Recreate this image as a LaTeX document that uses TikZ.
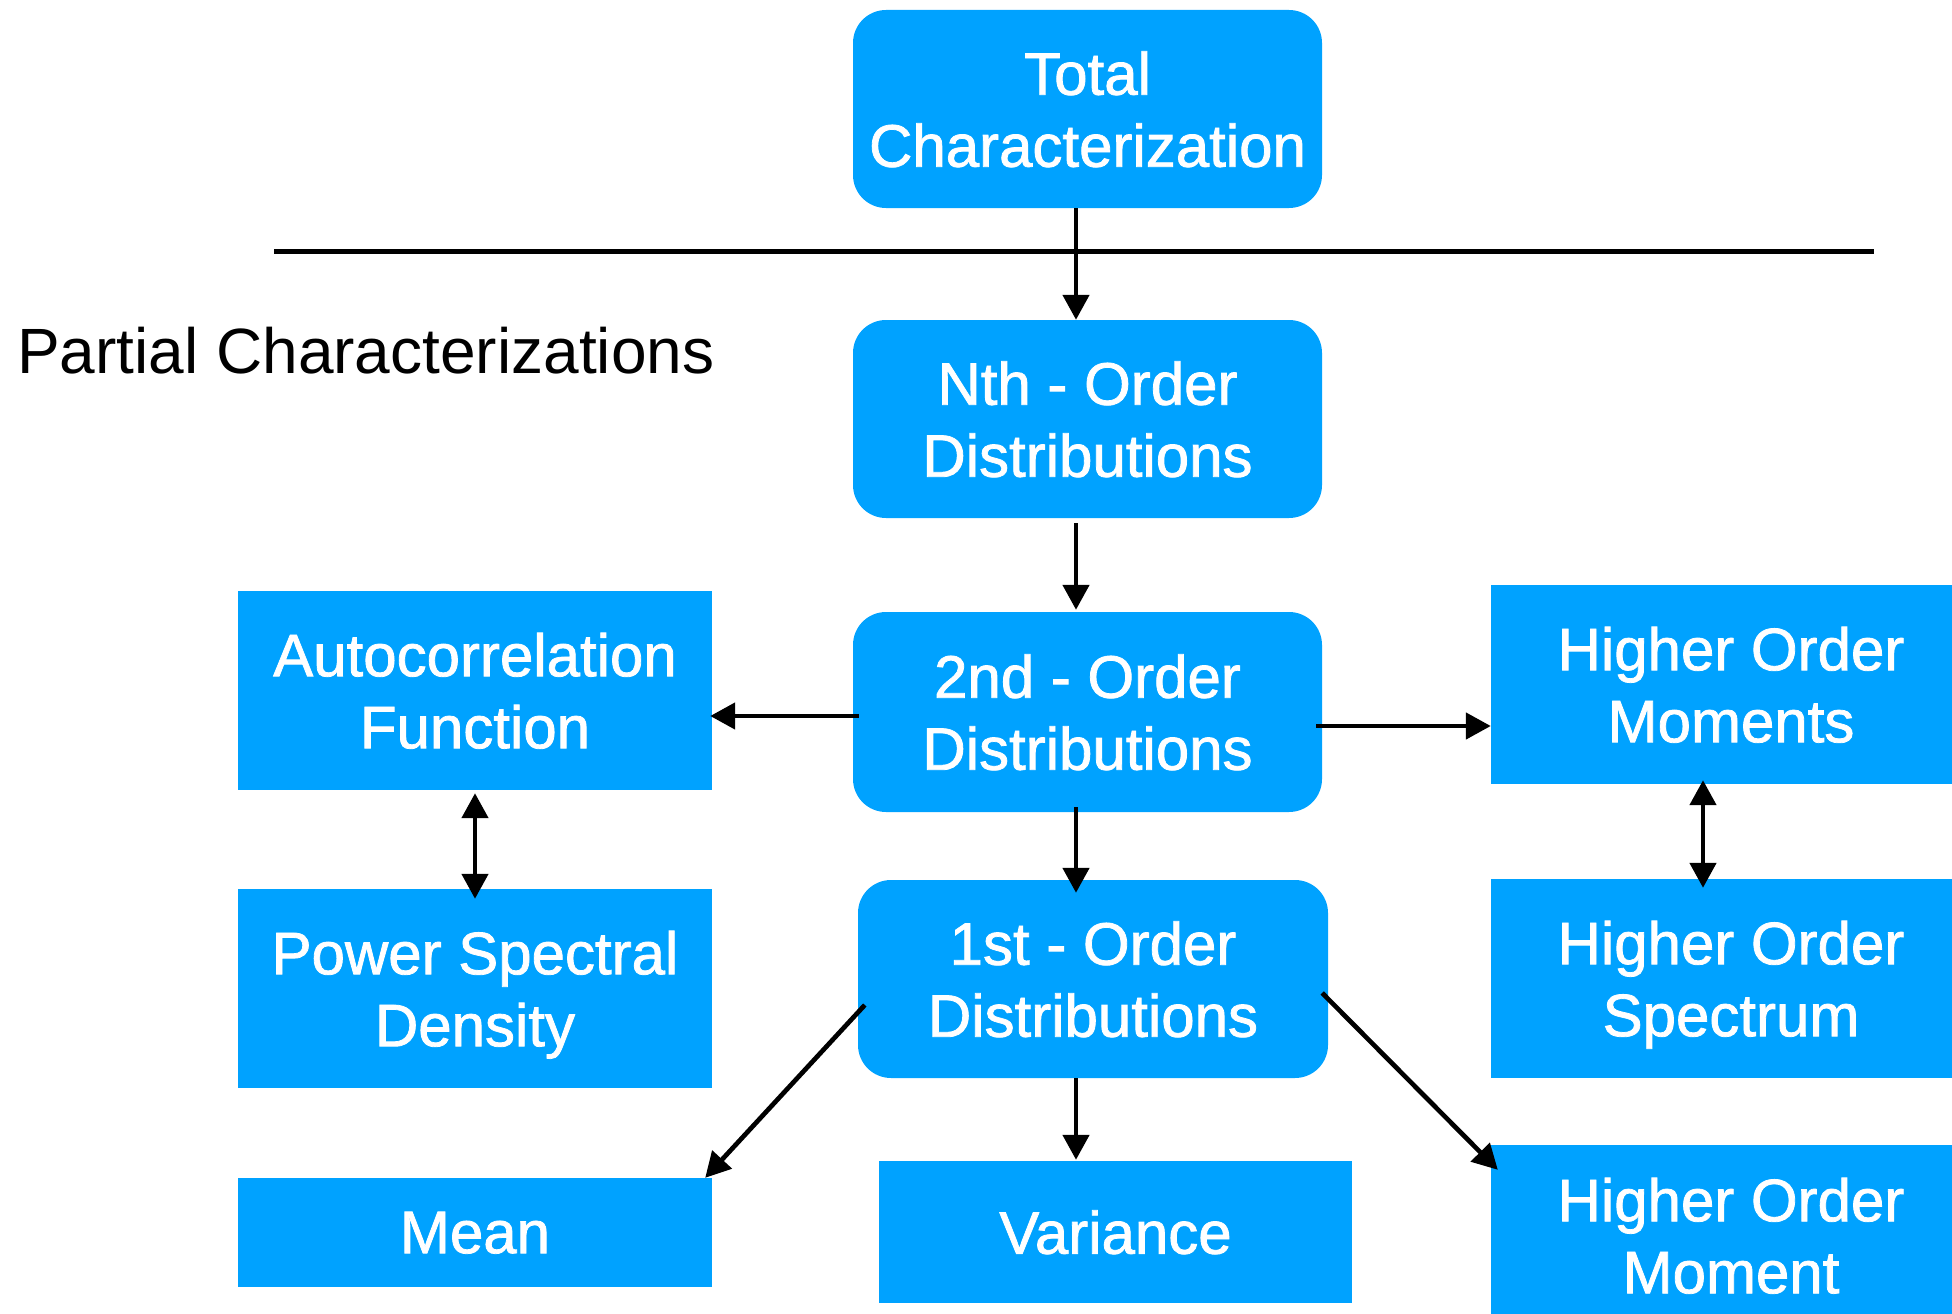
\documentclass[tikz,border=0pt]{standalone}
\usepackage{fontspec}
\setmainfont{Liberation Sans}
\newfontfamily\boxfam{Liberation Sans}[FakeBold=1.3]
\usetikzlibrary{arrows.meta}
\definecolor{kblue}{RGB}{0,162,255}
\newcommand\twol[2]{\vbox{\baselineskip=72pt\lineskiplimit=-200pt\halign{\hfil##\hfil\cr#1\cr#2\cr}}}
\begin{document}
\begin{tikzpicture}[x=1pt,y=-1pt,
  boxbase/.style={fill=kblue, text=white, inner sep=0pt, text depth=0pt,
    font=\boxfam\fontsize{60}{72}\selectfont},
  rbox/.style={boxbase, rounded corners=33pt},
  sbox/.style={boxbase},
  arr/.style={line width=4.7pt, -{Triangle[length=25pt,width=26pt]}},
  darr/.style={line width=4.7pt, {Triangle[length=25pt,width=26pt]}-{Triangle[length=25pt,width=26pt]}}
]
\useasboundingbox (0,0) rectangle (1952,1314);

% rounded boxes
\node[rbox, minimum width=469pt, minimum height=198pt] (tot) at (1087.5,109) {\twol{Total}{Characterization}};
\node[rbox, minimum width=469pt, minimum height=198pt] (nth) at (1087.5,419) {\twol{Nth - Order}{Distributions}};
\node[rbox, minimum width=469pt, minimum height=200pt] (sec) at (1087.5,712) {\twol{2nd - Order}{Distributions}};
\node[rbox, minimum width=470pt, minimum height=198pt] (fst) at (1093,979) {\twol{1st - Order}{Distributions}};

% square boxes
\node[sbox, minimum width=474pt, minimum height=199pt] (auto) at (475,690.5) {\twol{Autocorrelation}{Function}};
\node[sbox, minimum width=474pt, minimum height=199pt] (psd) at (475,988.5) {\twol{Power Spectral}{Density}};
\node[sbox, minimum width=474pt, minimum height=109pt] (mean) at (475,1232.5) {Mean};
\node[sbox, minimum width=473pt, minimum height=142pt] (var) at (1115.5,1232) {Variance};
\node[sbox, minimum width=480pt, minimum height=199pt] (homs) at (1731,684.5) {\twol{Higher Order}{Moments}};
\node[sbox, minimum width=480pt, minimum height=199pt] (hos) at (1731,978.5) {\twol{Higher Order}{Spectrum}};
\node[sbox, minimum width=480pt, minimum height=181pt] (hom) at (1731,1235.5) {\twol{Higher Order}{Moment}};

% label
\node[anchor=base west, inner sep=0pt, font=\fontsize{64}{77}\selectfont] (pc) at (17,373) {Partial Characterizations};

% separator
\draw[line width=5pt] (274,251) -- (1874,251);

% helper coordinates
\coordinate (ax) at (1076,0);
\coordinate (la) at (0,716);
\coordinate (ra) at (0,726);
\coordinate (lx) at (475,0);
\coordinate (rx) at (1703,0);

% connectors
\draw[arr] (tot.south -| ax) -- (nth.north -| ax);
\draw[arr] ([yshift=-5pt]nth.south -| ax) -- ([yshift=2pt]sec.north -| ax);
\draw[arr] ([yshift=5pt]sec.south -| ax) -- ([yshift=-13pt]fst.north -| ax);
\draw[arr] ([xshift=6pt]sec.west |- la) -- ([xshift=-2pt]auto.east |- la);
\draw[arr] ([xshift=-6pt]sec.east |- ra) -- (homs.west |- ra);
\draw[darr] ([yshift=-3pt]auto.south -| lx) -- ([yshift=-10pt]psd.north -| lx);
\draw[darr] ([yshift=4pt]homs.south -| rx) -- ([yshift=-9pt]hos.north -| rx);
\draw[arr] ([shift={(7pt,-26pt)}]fst.west) -- ([xshift=-7pt]mean.north east);
\draw[arr] (fst.south -| ax) -- ([yshift=1pt]var.north -| ax);
\draw[arr] ([shift={(-6pt,-14pt)}]fst.east) -- ([shift={(7pt,-25pt)}]hom.north west);
\end{tikzpicture}
\end{document}
